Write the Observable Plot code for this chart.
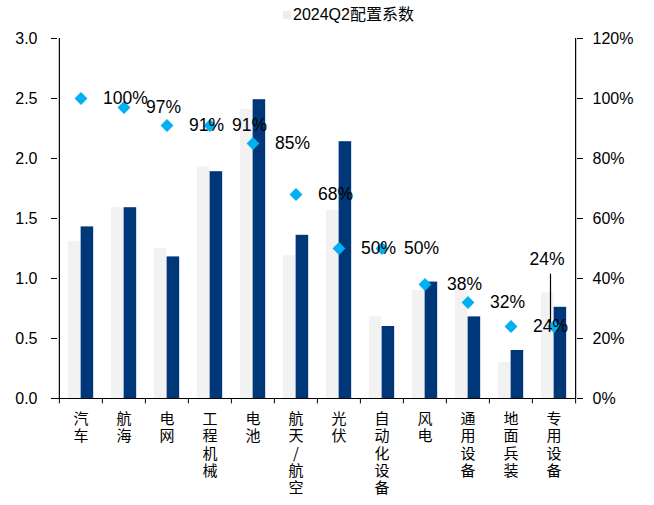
<!DOCTYPE html>
<html>
<head>
<meta charset="utf-8">
<script src="https://cdn.jsdelivr.net/npm/d3@7"></script>
<script src="https://cdn.jsdelivr.net/npm/@observablehq/plot@0.6"></script>
<style>
  html, body { margin: 0; padding: 0; background: #fff; }
  #legend { height: 28px; position: relative; font-family: "Liberation Sans", "Noto Sans CJK SC", sans-serif; font-size: 16px; color: #000; }
  #legend .sw { position: absolute; left: 283px; top: 11px; width: 8px; height: 8px; background: #EDEDED; }
  #legend .lb { position: absolute; left: 293px; top: 5px; line-height: 20px; white-space: nowrap; }
</style>
</head>
<body>
<div id="legend"><span class="sw"></span><span class="lb">2024Q2配置系数</span></div>
<div id="chart"></div>
<script>
const categories = ["汽车", "航海", "电网", "工程机械", "电池", "航天/航空", "光伏", "自动化设备", "风电", "通用设备", "地面兵装", "专用设备"];
const coef2024Q2 = [1.31, 1.59, 1.25, 1.93, 2.41, 1.19, 1.57, 0.68, 0.90, 0.90, 0.30, 0.88];
const coefLatest = [1.43, 1.59, 1.18, 1.89, 2.49, 1.36, 2.14, 0.60, 0.97, 0.68, 0.40, 0.76];
const rankPct = [100, 97, 91, 91, 85, 68, 50, 50, 38, 32, 24, 24];
const leftTicks = [0, 0.5, 1.0, 1.5, 2.0, 2.5, 3.0];
const rightTicks = [0, 20, 40, 60, 80, 100, 120];

const rows = categories.map((c, i) => ({cat: c, q2: coef2024Q2[i], cur: coefLatest[i], pct: rankPct[i]}));
const pctToY = p => p / 100 * 2.5;

const W = 654, H = 477, mL = 57, mR = 78, mT = 10, mB = 107;
const step = (W - mL - mR) / categories.length;
const bw = 12.8;
const cjk = "Liberation Sans, Noto Sans CJK SC, sans-serif";
const first = categories[0], last = categories[categories.length - 1];

const chart = Plot.plot({
  width: W, height: H,
  marginLeft: mL, marginRight: mR, marginTop: mT, marginBottom: mB,
  style: {background: "#fff", color: "#000", fontFamily: cjk},
  x: {domain: categories, padding: 0, axis: null},
  y: {domain: [0, 3], axis: null},
  marks: [
    Plot.barY(rows, {x: "cat", y: "q2", fill: "#F2F2F2", insetLeft: step / 2 - bw, insetRight: step / 2}),
    Plot.barY(rows, {x: "cat", y: "cur", fill: "#003778", insetLeft: step / 2, insetRight: step / 2 - bw}),
    Plot.ruleY([0], {stroke: "#000", strokeWidth: 1.2}),
    Plot.ruleX([first], {x: d => d, dx: -step / 2, y1: 0, y2: 3, stroke: "#000", strokeWidth: 1.2}),
    Plot.ruleX([last], {x: d => d, dx: step / 2, y1: 0, y2: 3, stroke: "#000", strokeWidth: 1.2}),
    Plot.ruleX(categories, {x: d => d, dx: -step / 2, y1: 0, y2: -0.045, stroke: "#000"}),
    Plot.ruleX([last], {x: d => d, dx: step / 2, y1: 0, y2: -0.045, stroke: "#000"}),
    Plot.axisY({anchor: "left", ticks: leftTicks, tickFormat: d3.format(".1f"), tickSize: 6, tickPadding: 14, fontSize: 16, fontFamily: "Liberation Sans, sans-serif", label: null}),
    Plot.axisY({anchor: "right", ticks: rightTicks.map(pctToY), tickFormat: d => Math.round(d / 2.5 * 100) + "%", tickSize: 6, tickPadding: 10, fontSize: 16, fontFamily: "Liberation Sans, sans-serif", label: null}),
    Plot.axisX({anchor: "bottom", tickSize: 0, tickPadding: 13, tickFormat: d => [...d].join("\n"), lineHeight: 1.16, fontSize: 15, fontFamily: "Noto Sans CJK SC, sans-serif", label: null}),
    Plot.dot(rows, {x: "cat", y: d => pctToY(d.pct), symbol: "diamond2", r: 5.8, fill: "#00B0F0", stroke: "none"}),
    Plot.text(rows.slice(0, rows.length - 1), {x: "cat", y: d => pctToY(d.pct), text: d => d.pct + "%", dx: 22, textAnchor: "start", fontSize: 17.5, fontFamily: "Liberation Sans, sans-serif", fill: "#000"}),
    Plot.link([rows[rows.length - 1]], {x1: "cat", x2: "cat", y1: d => pctToY(d.pct) + 0.03, y2: d => pctToY(d.pct) + 0.44, dx: -3.5, stroke: "#000", strokeWidth: 1.2}),
    Plot.text([rows[rows.length - 1]], {x: "cat", y: d => pctToY(d.pct), text: d => d.pct + "%", dx: -7, dy: -67, textAnchor: "middle", fontSize: 17.5, fontFamily: "Liberation Sans, sans-serif", fill: "#000"})
  ]
});
document.getElementById("chart").appendChild(chart);
</script>
</body>
</html>
